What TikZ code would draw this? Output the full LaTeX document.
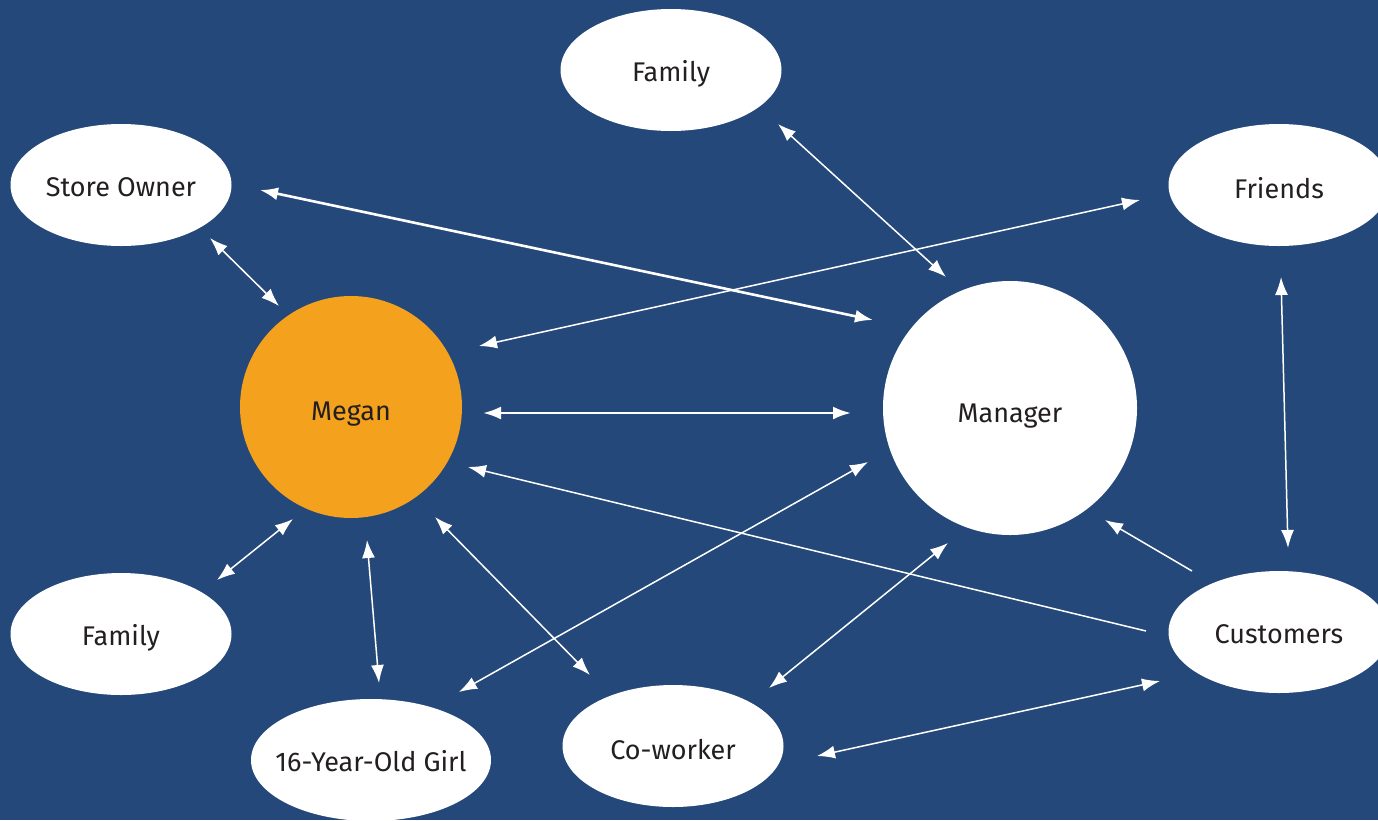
\documentclass[tikz,border=0pt]{standalone}
\usepackage{fontspec}
\setmainfont{Fira Sans}
\usetikzlibrary{arrows.meta,calc,shapes.geometric}
\definecolor{bg}{HTML}{24487A}
\definecolor{meg}{HTML}{F4A11D}
\definecolor{txt}{HTML}{231F20}
\tikzset{
  lbl/.style={text=txt, font=\fontsize{27}{32}\selectfont, text height=24pt, text depth=2pt},
  lower/.style={text height=28pt, text depth=2pt},
  oval/.style={ellipse, fill=white, minimum width=221pt, minimum height=122pt, inner sep=0pt, lbl},
  ball/.style={circle, fill=#1, inner sep=0pt, lbl},
  link/.style={white, line width=1.5pt, {Latex[length=18pt,width=13pt]}-{Latex[length=18pt,width=13pt]}},
  boldlink/.style={link, line width=2.6pt},
  onelink/.style={white, line width=1.5pt, -{Latex[length=18pt,width=13pt]}},
}
\begin{document}
\begin{tikzpicture}[x=1pt,y=-1pt]
\fill[bg] (0,0) rectangle (1378,820);
\useasboundingbox (0,0) rectangle (1378,820);
% nodes
\node[oval] (famtop) at (671,70) {Family};
\node[oval] (store) at (121,185) {Store Owner};
\node[oval, lower] (friends) at (1279,185) {Friends};
\node[ball=meg, minimum size=222pt, lower] (megan) at (351,407) {Megan};
\node[ball=white, minimum size=254pt, text height=30pt, text depth=2pt] (manager) at (1010,408) {Manager};
\node[oval] (fambot) at (121,634) {Family};
\node[oval, minimum width=240pt, inner xsep=-40pt] (girl) at (371,760) {16-Year-Old Girl};
\node[oval, lower] (cowork) at (673,746) {Co-worker};
\node[oval] (cust) at (1279,632) {Customers};
% connector end points
\coordinate (s1) at (260,190);  \coordinate (m1) at (873,320);
\coordinate (s2) at (210,238);  \coordinate (g2) at (279,306);
\coordinate (f3) at (778,124);  \coordinate (m3) at (946,277);
\coordinate (fr4) at (1140,200); \coordinate (g4) at (479,346);
\coordinate (g5) at (483,413);  \coordinate (m5) at (851,413);
\coordinate (fr6) at (1281,277); \coordinate (c6) at (1288,548);
\coordinate (c7) at (1192,571); \coordinate (m7) at (1105,520);
\coordinate (c8) at (1146,631); \coordinate (g8) at (468,467);
\coordinate (c9) at (1160,681); \coordinate (w9) at (817,756);
\coordinate (w10) at (769,688); \coordinate (m10) at (948,543);
\coordinate (gl11) at (459,692); \coordinate (m11) at (868,462);
\coordinate (g12) at (435,517); \coordinate (w12) at (590,675);
\coordinate (g13) at (367,540); \coordinate (gl13) at (379,683);
\coordinate (g14) at (293,519); \coordinate (fb14) at (217,580);
% connectors
\draw[boldlink] (s1) -- (m1);
\draw[link] (s2) -- (g2);
\draw[link] (f3) -- (m3);
\draw[link] (fr4) -- (g4);
\draw[boldlink] (g5) -- (m5);
\draw[link] (fr6) -- (c6);
\draw[onelink] (c7) -- (m7);
\draw[onelink] (c8) -- (g8);
\draw[link] (c9) -- (w9);
\draw[link] (w10) -- (m10);
\draw[link] (gl11) -- (m11);
\draw[link] (g12) -- (w12);
\draw[link] (g13) -- (gl13);
\draw[link] (g14) -- (fb14);
\end{tikzpicture}
\end{document}
